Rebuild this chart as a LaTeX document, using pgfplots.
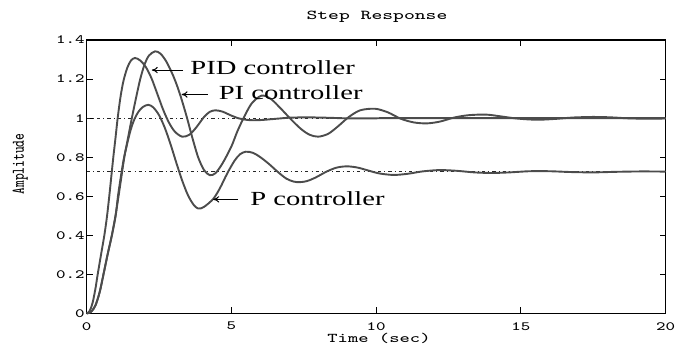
\documentclass[border=0pt]{standalone}
\usepackage{fontspec}
\setmainfont{Liberation Serif}
\usepackage{graphicx}
\usepackage{pgfplots}
\usepackage{pgfplotstable}
\usetikzlibrary{arrows.meta,calc}
\pgfplotsset{compat=1.18}

% widened typewriter text for ticks, title and axis labels
\newcommand{\tk}[1]{\scalebox{1.42}[1]{\ttfamily\fontsize{6.3bp}{7bp}\selectfont #1}}
\newcommand{\lab}[1]{\scalebox{1.45}[1]{\ttfamily\fontsize{6.7bp}{7.5bp}\selectfont #1}}
\newcommand{\ctl}[1]{\scalebox{1.43}[1]{\fontsize{10bp}{12bp}\selectfont #1}}

% closed-loop step responses
\pgfplotstableread{
t y
0 0
0.1 0.012
0.2 0.052
0.3 0.125
0.38 0.2
0.5 0.305
0.61 0.40
0.7 0.495
0.78 0.60
0.85 0.70
0.92 0.80
1.0 0.905
1.07 1.0
1.17 1.11
1.27 1.19
1.4 1.257
1.53 1.295
1.67 1.308
1.85 1.295
2.05 1.26
2.25 1.20
2.45 1.12
2.65 1.04
2.85 0.975
3.05 0.93
3.3 0.905
3.55 0.915
3.8 0.955
4.05 1.005
4.25 1.032
4.45 1.04
4.7 1.033
4.95 1.016
5.25 0.999
5.6 0.99
6.0 0.99
6.5 0.996
7.0 1.002
7.6 1.004
8.3 1.002
9.0 0.999
10.0 0.999
11.0 1.0
20 1.0
}\pidtable

\pgfplotstableread{
t y
0 0
0.15 0.008
0.3 0.04
0.45 0.11
0.58 0.20
0.72 0.30
0.87 0.40
1.0 0.505
1.1 0.60
1.2 0.70
1.3 0.80
1.43 0.90
1.56 1.0
1.7 1.10
1.85 1.20
2.0 1.275
2.15 1.32
2.36 1.342
2.55 1.33
2.75 1.29
2.95 1.23
3.1 1.175
3.25 1.11
3.45 1.01
3.65 0.90
3.85 0.80
4.05 0.735
4.25 0.708
4.45 0.718
4.7 0.77
5.0 0.855
5.2 0.93
5.42 1.0
5.7 1.075
6.04 1.115
6.35 1.10
6.7 1.05
7.05 0.995
7.4 0.945
7.7 0.915
8.0 0.905
8.35 0.92
8.7 0.96
9.05 1.005
9.45 1.04
9.96 1.048
10.4 1.03
10.85 0.997
11.3 0.978
11.75 0.973
12.2 0.982
12.7 1.003
13.2 1.015
13.8 1.018
14.3 1.009
14.8 0.999
15.3 0.993
15.7 0.992
16.2 0.996
16.8 1.003
17.5 1.006
18.1 1.004
18.7 0.999
19.3 0.997
20 0.998
}\pitable

\pgfplotstableread{
t y
0 0
0.15 0.008
0.3 0.04
0.45 0.11
0.58 0.20
0.72 0.30
0.87 0.40
1.0 0.50
1.08 0.60
1.18 0.70
1.28 0.79
1.4 0.87
1.52 0.94
1.65 0.995
1.8 1.035
1.95 1.058
2.13 1.068
2.3 1.055
2.5 1.015
2.7 0.95
2.9 0.865
3.1 0.77
3.3 0.68
3.5 0.605
3.7 0.555
3.86 0.537
4.05 0.545
4.37 0.586
4.6 0.64
4.85 0.715
5.1 0.78
5.3 0.815
5.5 0.828
5.75 0.822
6.0 0.80
6.3 0.765
6.6 0.725
6.9 0.69
7.15 0.675
7.35 0.672
7.6 0.677
7.9 0.695
8.3 0.727
8.65 0.747
9.0 0.753
9.35 0.747
9.7 0.733
10.1 0.717
10.6 0.709
11.1 0.715
11.6 0.727
12.2 0.734
12.8 0.73
13.4 0.722
14.0 0.719
14.6 0.722
15.3 0.728
16.0 0.728
16.7 0.724
17.5 0.722
18.3 0.725
19.2 0.727
20 0.726
}\ptable

\begin{document}
\begin{tikzpicture}
\begin{axis}[
  scale only axis,
  width=289.4bp, height=136.7bp,
  xmin=0, xmax=20, ymin=0, ymax=1.4,
  axis line style={line width=0.65bp},
  tick style={black, line width=0.55bp},
  major tick length=3bp,
  tick align=inside,
  xtick={0,5,10,15,20},
  xticklabels={\tk{0},\tk{5},\tk{10},\tk{15},\tk{20}},
  ytick={0,0.2,0.4,0.6,0.8,1,1.2,1.4},
  yticklabels={\tk{0},\tk{0.2},\tk{0.4},\tk{0.6},\tk{0.8},\tk{1},\tk{1.2},\tk{1.4}},
  xticklabel style={anchor=north, inner sep=0pt, yshift=-4.2bp},
  yticklabel style={anchor=east, inner sep=0pt, xshift=-0.8bp},
  clip=false,
  curve/.style={black!70, line width=0.95bp, smooth, tension=0.5},
  ref/.style={black!85, line width=0.4bp, dash pattern=on 1.6bp off 1.6bp on 0.4bp off 1.6bp},
]
\coordinate (bl) at (rel axis cs:0,0);
\coordinate (tr) at (rel axis cs:1,1);

% steady-state levels
\addplot[ref] coordinates {(0,1) (20,1)};
\addplot[ref] coordinates {(0,0.725) (20,0.725)};

\addplot[curve] table[x=t,y=y] {\pidtable};
\addplot[curve] table[x=t,y=y] {\pitable};
\addplot[curve] table[x=t,y=y] {\ptable};

% annotations
\draw[-{To[length=3bp,width=3.2bp]}, line width=0.5bp] (axis cs:3.33,1.246) -- (axis cs:2.25,1.246);
\node[anchor=base west, inner sep=0pt] at (axis cs:3.57,1.221) {\ctl{PID controller}};
\draw[-{To[length=3bp,width=3.2bp]}, line width=0.5bp] (axis cs:4.19,1.121) -- (axis cs:3.28,1.121);
\node[anchor=base west, inner sep=0pt] at (axis cs:4.55,1.093) {\ctl{PI controller}};
\draw[-{To[length=3bp,width=3.2bp]}, line width=0.5bp] (axis cs:5.23,0.584) -- (axis cs:4.37,0.584);
\node[anchor=base west, inner sep=0pt] at (axis cs:5.64,0.555) {\ctl{P controller}};

% title and axis labels
\node at (axis cs:10.03,1.518) {\scalebox{1.5}[1]{\ttfamily\fontsize{6.8bp}{7.5bp}\selectfont Step Response}};
\node at (axis cs:10.1,-0.127) {\lab{Time (sec)}};
\node[rotate=90] at (axis cs:-2.3,0.765) {\scalebox{1}[1.4]{\ttfamily\fontsize{6.4bp}{7bp}\selectfont Amplitude}};
\end{axis}
\pgfresetboundingbox
\path ($(bl)+(-43.35bp,-15.35bp)$) rectangle ($(tr)+(4.75bp,20bp)$);
\end{tikzpicture}
\end{document}
